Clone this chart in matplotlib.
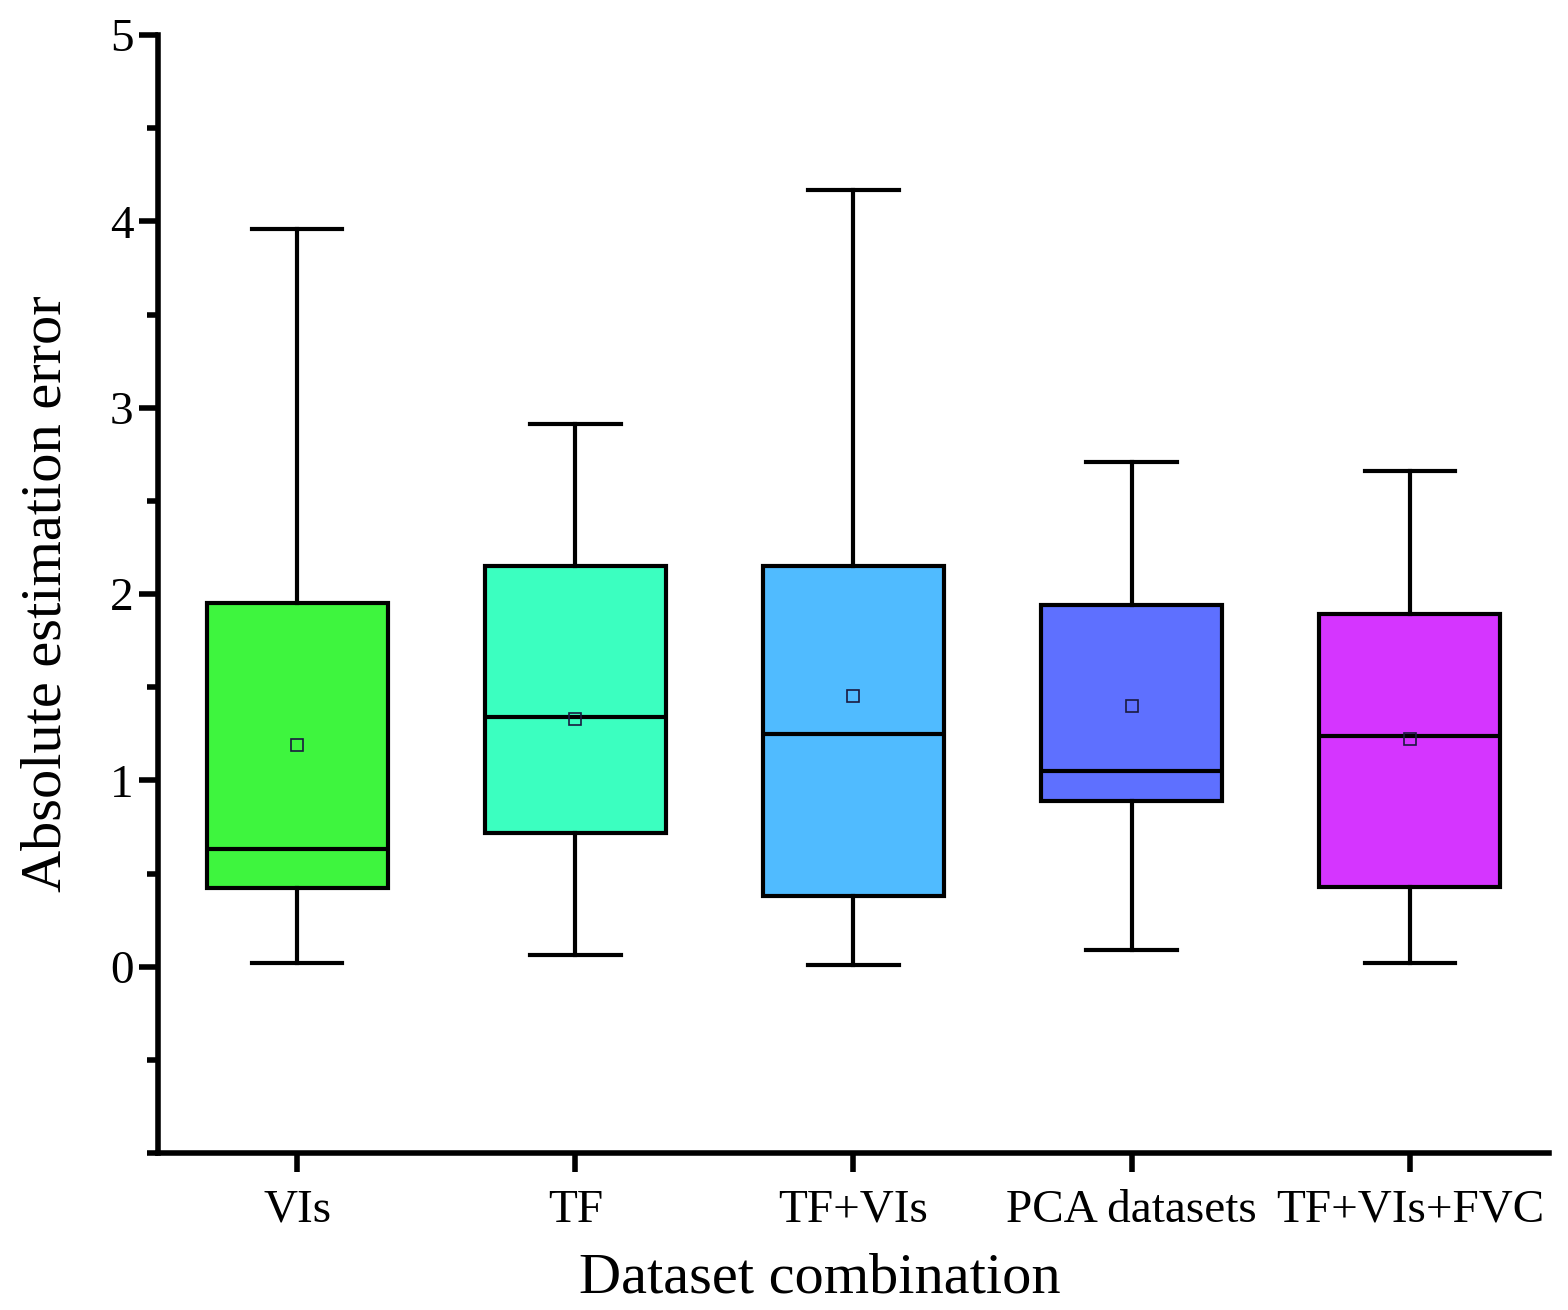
import matplotlib
matplotlib.use("Agg")
import matplotlib.pyplot as plt
from matplotlib.ticker import MultipleLocator

plt.rcParams['font.family'] = ['Liberation Serif', 'DejaVu Serif']

labels = ["VIs", "TF", "TF+VIs", "PCA datasets", "TF+VIs+FVC"]
whislo = [0.02, 0.06, 0.01, 0.09, 0.02]
q1 = [0.42, 0.72, 0.38, 0.89, 0.43]
med = [0.63, 1.34, 1.25, 1.05, 1.24]
q3 = [1.95, 2.15, 2.15, 1.94, 1.89]
whishi = [3.96, 2.91, 4.17, 2.71, 2.66]
means = [1.19, 1.33, 1.45, 1.40, 1.22]
colors = ["#3ef53e", "#3bffc0", "#50bbff", "#5e70ff", "#d535ff"]

stats = []
for i in range(len(labels)):
    stats.append({"label": labels[i], "whislo": whislo[i], "q1": q1[i], "med": med[i],
                  "q3": q3[i], "whishi": whishi[i], "mean": means[i], "fliers": []})

fig = plt.figure(figsize=(15.68, 13.1), dpi=100)
ax = fig.add_axes([158/1568, 1-1153/1310, (1549-158)/1568, (1153-35)/1310])

lw = 3
bp = ax.bxp(stats, positions=range(1, 6), widths=0.65, patch_artist=True, showmeans=True,
            boxprops=dict(linewidth=lw, edgecolor="black"),
            whiskerprops=dict(linewidth=lw, color="black"),
            capprops=dict(linewidth=lw, color="black"),
            medianprops=dict(linewidth=lw, color="black"),
            meanprops=dict(marker="s", markersize=9, markerfacecolor="none",
                           markeredgecolor="#1a1a40", markeredgewidth=1.2),
            capwidths=0.325)
for patch, c in zip(bp["boxes"], colors):
    patch.set_facecolor(c)

ax.set_xlim(0.5, 5.5)
ax.set_ylim(-1, 5)
ax.set_yticks([0, 1, 2, 3, 4, 5])
ax.yaxis.set_minor_locator(MultipleLocator(0.5))
ax.spines["top"].set_visible(False)
ax.spines["right"].set_visible(False)
ax.spines["left"].set_linewidth(4)
ax.spines["bottom"].set_linewidth(4)
ax.tick_params(axis="both", which="major", direction="out", length=14, width=4, labelsize=34)
ax.tick_params(axis="y", which="minor", direction="out", length=8, width=4)
ax.tick_params(axis="x", pad=12)
ax.set_xlabel("Dataset combination", fontsize=42, labelpad=15)
ax.xaxis.label.set_x(0.476)
ax.set_ylabel("Absolute estimation error", fontsize=42, labelpad=27)

fig.savefig("out.png", dpi=100)
